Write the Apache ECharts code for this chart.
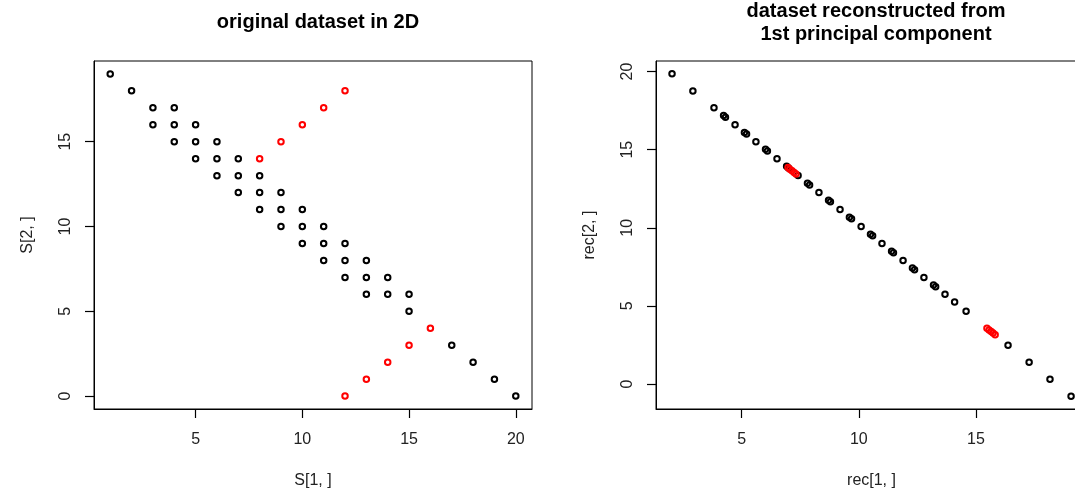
<!DOCTYPE html>
<html>
<head>
<meta charset="utf-8">
<script src="https://cdn.jsdelivr.net/npm/echarts@6/dist/echarts.min.js"></script>
<style>
  html, body { margin: 0; padding: 0; background: #fff; }
  #chart { width: 1075px; height: 490px; }
</style>
</head>
<body>
<div id="chart"></div>
<script>
// original points S (black = on the main diagonal, red = the cross line)
const origBlackX = [1, 2, 3, 4, 3, 4, 5, 4, 5, 6, 5, 6, 7, 6, 7, 8, 7, 8, 9, 8, 9, 10, 9, 10, 11, 10, 11, 12, 11, 12, 13, 12, 13, 14, 13, 14, 15, 15, 17, 18, 19, 20]
const origBlackY = [19, 18, 17, 17, 16, 16, 16, 15, 15, 15, 14, 14, 14, 13, 13, 13, 12, 12, 12, 11, 11, 11, 10, 10, 10, 9, 9, 9, 8, 8, 8, 7, 7, 7, 6, 6, 6, 5, 3, 2, 1, 0]
const origRedX = [8, 9, 10, 11, 12, 12, 13, 14, 15, 16]
const origRedY = [14, 15, 16, 17, 18, 0, 1, 2, 3, 4]

// reconstructed points rec
const recBlackX = [2.03, 2.92, 3.82, 4.23, 4.31, 4.72, 5.12, 5.21, 5.61, 6.02, 6.10, 6.51, 6.92, 7.00, 7.41, 7.81, 7.90, 8.30, 8.71, 8.79, 9.20, 9.60, 9.69, 10.10, 10.50, 10.59, 10.99, 11.40, 11.48, 11.89, 12.29, 12.38, 12.78, 13.19, 13.28, 13.68, 14.09, 14.58, 16.37, 17.27, 18.16, 19.06]
const recBlackY = [19.85, 18.76, 17.68, 17.19, 17.08, 16.59, 16.10, 16.00, 15.51, 15.02, 14.91, 14.42, 13.93, 13.83, 13.34, 12.85, 12.74, 12.25, 11.76, 11.66, 11.17, 10.67, 10.57, 10.08, 9.59, 9.48, 8.99, 8.50, 8.40, 7.91, 7.42, 7.31, 6.82, 6.33, 6.23, 5.74, 5.25, 4.65, 2.48, 1.39, 0.31, -0.78]
const recRedX = [7.32, 7.24, 7.15, 7.06, 6.98, 15.82, 15.73, 15.65, 15.56, 15.47]
const recRedY = [13.44, 13.54, 13.65, 13.75, 13.85, 3.15, 3.26, 3.36, 3.46, 3.57]

const tickVals = [0, 5, 10, 15, 20]

const FONT = 'Liberation Sans'

function pairs(xs, ys) {
    return xs.map((x, i) => [x, ys[i]])
}

// R style axis: ticks pointing out, line hidden under the box
function axisFor(gridIndex, name, min, max, isY) {
    return {
        type: 'value', gridIndex: gridIndex, min: min, max: max,
        name: name, nameLocation: 'middle', nameGap: isY ? 58 : 64,
        nameTextStyle: { fontFamily: FONT, fontSize: 16, color: '#222' },
        splitLine: { show: false },
        axisLine: { show: true, onZero: false, lineStyle: { color: '#000', width: 1 } },
        axisTick: { show: true, length: 9, customValues: tickVals, lineStyle: { color: '#000', width: 1.2 } },
        axisLabel: {
            customValues: tickVals, rotate: isY ? 90 : 0, margin: isY ? 20 : 23,
            fontFamily: FONT, fontSize: 16, color: '#222'
        }
    }
}

function pointSeries(xi, data, color) {
    return {
        type: 'scatter', xAxisIndex: xi, yAxisIndex: xi,
        data: data, symbol: 'circle', symbolSize: 5.5,
        itemStyle: { color: 'rgba(0,0,0,0)', borderColor: color, borderWidth: 2, opacity: 1 },
        emphasis: { disabled: true },
        silent: true
    }
}

const chart = echarts.init(document.getElementById('chart'), null, { renderer: 'canvas' })

const option = {
    backgroundColor: '#fff',
    animation: false,
    title: [
        {
            text: 'original dataset in 2D', left: 313, top: 6, textAlign: 'center',
            textStyle: { fontFamily: FONT, fontSize: 20, fontWeight: 'bold', color: '#000', lineHeight: 23 }
        },
        {
            text: 'dataset reconstructed from\n1st principal component', left: 871, top: -5, textAlign: 'center',
            textStyle: { fontFamily: FONT, fontSize: 20, fontWeight: 'bold', color: '#000', lineHeight: 23 }
        }
    ],
    grid: [
        { left: 94, top: 61, width: 438, height: 348, show: true, borderColor: '#000', borderWidth: 1, containLabel: false, outerBoundsMode: 'none' },
        { left: 656, top: 61, width: 431, height: 348, show: true, borderColor: '#000', borderWidth: 1, containLabel: false, outerBoundsMode: 'none' }
    ],
    xAxis: [
        axisFor(0, 'S[1, ]', 0.24, 20.76, false),
        axisFor(1, 'rec[1, ]', 1.346, 19.74, false)
    ],
    yAxis: [
        axisFor(0, 'S[2, ]', -0.76, 19.76, true),
        axisFor(1, 'rec[2, ]', -1.602, 20.674, true)
    ],
    series: [
        pointSeries(0, pairs(origBlackX, origBlackY), '#000'),
        pointSeries(0, pairs(origRedX, origRedY), '#ff0000'),
        pointSeries(1, pairs(recBlackX, recBlackY), '#000'),
        pointSeries(1, pairs(recRedX, recRedY), '#ff0000')
    ]
}

chart.setOption(option)
</script>
</body>
</html>
